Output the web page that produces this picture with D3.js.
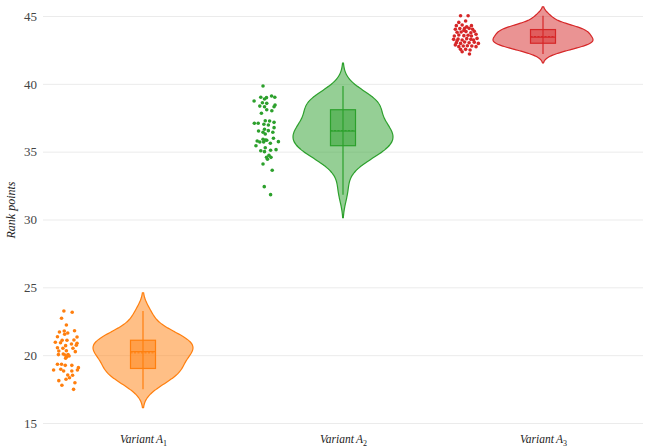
<!DOCTYPE html>
<html><head><meta charset="utf-8">
<script src="https://cdn.jsdelivr.net/npm/d3@7"></script>
<style>html,body{margin:0;padding:0;background:#fff;}svg{display:block;}
svg text{font-family:"Liberation Serif","Times New Roman",Times,serif;}</style>
</head><body>
<svg id="chart" width="646" height="447"></svg>
<script>
// ---------- data ----------
const categories = ["A1", "A2", "A3"];
const categorySubs = ["1", "2", "3"];
const colors = ["#ff7f0e", "#2ca02c", "#d62728"];
const yTicks = [15, 20, 25, 30, 35, 40, 45];
const yTitle = "Rank points";

const valuesA1 = [23.26,23.16,22.72,22.22,21.80,21.71,21.78,21.63,21.54,21.36,21.34,21.10,21.10,21.12,20.95,20.92,20.82,20.88,20.73,20.70,20.55,20.51,20.51,20.26,20.31,20.33,20.09,20.04,20.01,20.04,19.89,19.94,19.77,19.33,19.33,19.25,19.25,19.08,18.91,18.96,18.83,18.83,18.91,18.54,18.52,18.34,18.12,18.22,17.97,17.78,17.48];
const jitterA1 = [-0.17,0.5,-0.36,0.03,0.69,-0.53,-0.14,0.14,-0.11,-0.69,0.89,-0.31,0.08,0.64,-0.86,-0.44,0.44,0.89,0.83,-0.03,-0.69,-0.25,0.56,0.75,-0.58,0.03,-0.22,-0.61,-0.08,0.17,0.06,0.25,-0.03,-0.69,-0.36,-0.06,0.47,1.0,-1.0,-0.42,-0.19,0.47,0.92,0.14,0.53,0.28,-0.58,0,0.72,-0.33,0.61];

const valuesA2 = [39.84,39.01,38.88,38.98,39.10,39.01,38.73,38.61,38.56,38.44,38.36,38.31,38.31,38.09,38.02,37.83,37.09,37.09,37.28,37.26,37.16,37.02,36.97,36.77,36.52,36.65,36.55,36.43,36.43,36.30,35.79,35.91,35.86,35.71,35.71,35.84,35.99,35.74,35.44,35.62,35.29,35.07,35.00,35.10,35.15,34.58,34.73,34.58,34.44,34.09,33.63,32.42,31.83];
const jitterA2 = [-0.24,-0.42,-0.12,0.04,0.45,0.71,-0.96,-0.29,0.06,0.73,-0.5,0.65,-0.12,0.06,0.47,-0.37,-0.94,-0.63,-0.06,0.29,0.65,-0.17,0.19,0.65,-0.6,-0.12,0.19,-0.24,0.55,-0.06,-0.71,-0.24,-0.04,-0.5,-0.19,0.06,0.6,1.0,-0.81,0.35,-0.06,-0.42,-0.12,0.37,0.81,0.04,0.24,0.4,0.12,-0.24,0.5,-0.14,0.37];

const valuesA3 = [45.02,45.02,44.53,44.63,44.29,44.34,44.21,44.29,44.02,44.07,44.09,44.09,44.02,43.80,43.82,43.85,43.77,43.87,43.53,43.60,43.55,43.58,43.53,43.65,43.28,43.31,43.23,43.33,43.28,43.35,43.03,42.98,43.08,43.03,43.06,42.98,42.74,42.79,42.81,42.79,42.87,42.74,42.54,42.54,42.49,43.18,43.23,42.37,42.20,43.94];
const jitterA3 = [-0.44,0.17,-0.58,-0.03,-0.78,-0.31,0.06,0.44,-0.86,-0.5,-0.11,0.25,0.53,-0.72,-0.39,0,0.39,0.67,-0.94,-0.58,-0.17,0.17,0.44,0.81,-1,-0.64,-0.31,0.06,0.39,0.89,-0.78,-0.44,-0.11,0.25,0.67,1.0,-0.58,-0.22,0.11,0.47,-0.86,0.81,-0.44,-0.03,0.33,-0.72,0.61,-0.31,0.28,-0.17];

const seriesValues = [valuesA1, valuesA2, valuesA3];
const seriesJitter = [jitterA1, jitterA2, jitterA3];

// ---------- layout ----------
const W = 646, H = 447;
const margin = {left: 43, right: 3, top: 5, bottom: 24};
const svg = d3.select("#chart");

const x = d3.scalePoint().domain(categories).range([margin.left, W - margin.right]).padding(0.5);
const y = d3.scaleLinear().domain([15, 45]).range([423, 16]);
const step = x.step();
const violinHalf = step * 0.25;
const boxHalf = step * 0.0625;
const ptsOffset = -step * 0.385;
const jitterHalf = step * 0.062;

// grid + y axis
const yAxis = d3.axisLeft(y).tickValues(yTicks).tickSize(-(W - margin.right - margin.left)).tickPadding(6);
const gy = svg.append("g").attr("transform", `translate(${margin.left},0)`).call(yAxis)
  .attr("font-family", null).attr("font-size", 13);
gy.select(".domain").remove();
gy.selectAll(".tick line").attr("stroke", "#ebebeb").attr("stroke-width", 1);
gy.selectAll(".tick text").attr("fill", "#444");

// x axis
const xAxis = d3.axisBottom(x).tickSize(0).tickPadding(10).tickFormat(() => "");
const gx = svg.append("g").attr("transform", `translate(0,423)`).call(xAxis)
  .attr("font-family", null);
gx.select(".domain").remove();
gx.selectAll(".tick text").each(function(d, i) {
  const t = d3.select(this).attr("fill", "#222")
    .attr("font-size", 11.5).attr("font-style", "italic").attr("dy", "0.9em");
  t.append("tspan").text("Variant");
  t.append("tspan").attr("dx", "2").text("A");
  t.append("tspan").attr("dy", "3").attr("font-size", 8).attr("font-style", "normal").text(categorySubs[i]);
});

// y title
svg.append("text")
  .attr("transform", `translate(15,210) rotate(-90)`)
  .attr("text-anchor", "middle")
  .attr("font-style", "italic").attr("font-size", 12)
  .attr("fill", "#222")
  .text(yTitle);

// ---------- violins ----------
function kde(values) {
  const n = values.length;
  const sd = d3.deviation(values);
  const sorted = values.slice().sort(d3.ascending);
  const iqr = d3.quantileSorted(sorted, 0.75) - d3.quantileSorted(sorted, 0.25);
  const bw = 1.059 * Math.min(sd, iqr / 1.349) * Math.pow(n, -0.2);
  const lo = sorted[0] - 2 * bw, hi = sorted[n - 1] + 2 * bw;
  const pts = [];
  const N = 120;
  for (let k = 0; k <= N; k++) {
    const v = lo + (hi - lo) * k / N;
    let s = 0;
    for (const xi of values) { const u = (v - xi) / bw; s += Math.exp(-0.5 * u * u); }
    pts.push([v, s / (n * bw * Math.sqrt(2 * Math.PI))]);
  }
  return pts;
}

categories.forEach((cat, i) => {
  const vals = seriesValues[i];
  const col = colors[i];
  const cx = x(cat);
  const g = svg.append("g");
  const dens = kde(vals);
  const maxD = d3.max(dens, d => d[1]);
  const w = d3.scaleLinear().domain([0, maxD]).range([0, violinHalf]);
  const area = d3.area()
    .y(d => y(d[0]))
    .x0(d => cx - w(d[1]))
    .x1(d => cx + w(d[1]))
    .curve(d3.curveBasis);
  g.append("path").datum(dens).attr("d", area)
    .attr("fill", col).attr("fill-opacity", 0.5)
    .attr("stroke", col).attr("stroke-width", 1.2);

  // box
  const s = vals.slice().sort(d3.ascending);
  const q1 = d3.quantileSorted(s, 0.25), med = d3.quantileSorted(s, 0.5), q3 = d3.quantileSorted(s, 0.75);
  const iqr = q3 - q1;
  const lowW = d3.min(s.filter(v => v >= q1 - 1.5 * iqr));
  const highW = d3.max(s.filter(v => v <= q3 + 1.5 * iqr));
  const mean = d3.mean(s);
  g.append("line").attr("x1", cx).attr("x2", cx).attr("y1", y(lowW)).attr("y2", y(highW))
    .attr("stroke", col).attr("stroke-width", 1.2);
  g.append("rect").attr("x", cx - boxHalf).attr("width", 2 * boxHalf)
    .attr("y", y(q3)).attr("height", y(q1) - y(q3))
    .attr("fill", col).attr("fill-opacity", 0.5).attr("stroke", col).attr("stroke-width", 1.2);
  g.append("line").attr("x1", cx - boxHalf).attr("x2", cx + boxHalf).attr("y1", y(med)).attr("y2", y(med))
    .attr("stroke", col).attr("stroke-width", 1.2);
  g.append("line").attr("x1", cx - boxHalf).attr("x2", cx + boxHalf).attr("y1", y(mean)).attr("y2", y(mean))
    .attr("stroke", col).attr("stroke-width", 1).attr("stroke-dasharray", "2,1.5");

  // points
  const jit = seriesJitter[i];
  g.selectAll("circle.pt").data(vals).enter().append("circle").attr("class", "pt")
    .attr("cx", (d, k) => cx + ptsOffset + jit[k] * jitterHalf)
    .attr("cy", d => y(d))
    .attr("r", 1.8)
    .attr("fill", col);
});
</script>
</body></html>
